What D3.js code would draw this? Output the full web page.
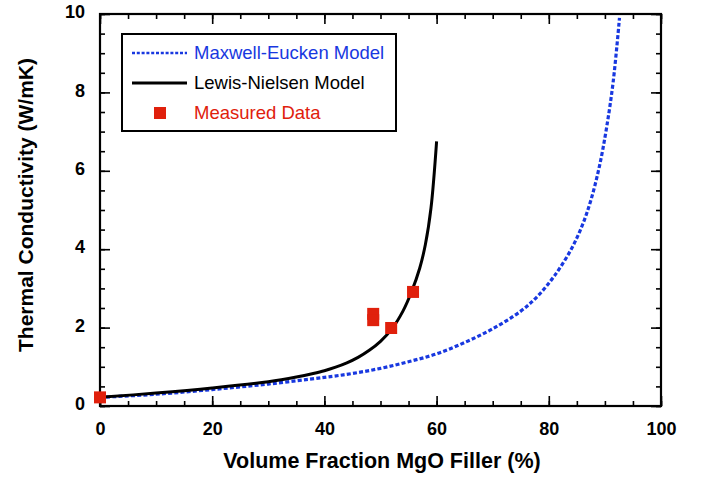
<!DOCTYPE html>
<html>
<head>
<meta charset="utf-8">
<script src="https://cdn.jsdelivr.net/npm/d3@7/dist/d3.min.js"></script>
<style>
  html, body { margin: 0; padding: 0; background: #fff; }
  svg { display: block; font-family: "Liberation Sans", Arial, Helvetica, sans-serif; }
</style>
</head>
<body>
<svg id="chart" width="702" height="479"></svg>
<script>
// Data
const meX = [0, 10, 20, 30, 40, 45, 50, 55, 60, 65, 70, 75, 78, 81, 84, 86, 87.5, 89, 90.3, 91.5, 92.6];
const meY = [0.22, 0.30, 0.42, 0.56, 0.73, 0.83, 0.96, 1.13, 1.33, 1.62, 1.97, 2.42, 2.80, 3.32, 4.0, 4.62, 5.25, 6.1, 7.1, 8.3, 9.9];

const lnX = [0, 10, 20, 30, 35, 38, 40, 42, 44, 46, 48, 50, 52, 54, 55.5, 57, 58, 59, 60];
const lnY = [0.22, 0.33, 0.46, 0.62, 0.74, 0.83, 0.90, 0.99, 1.10, 1.24, 1.42, 1.65, 1.96, 2.42, 2.90, 3.52, 4.12, 5.05, 6.75];

const measX = [0, 48.7, 48.7, 51.9, 55.8];
const measY = [0.22, 2.35, 2.19, 1.99, 2.91];

const xMajor = [0, 20, 40, 60, 80, 100];
const xMinor = d3.range(0, 101, 5);
const yMajor = [0, 2, 4, 6, 8, 10];
const yMinor = d3.range(0, 10.01, 0.5);

const legendLabels = ["Maxwell-Eucken Model", "Lewis-Nielsen Model", "Measured Data"];
const xTitle = "Volume Fraction MgO Filler (%)";
const yTitle = "Thermal Conductivity (W/mK)";

const blue = "#1838e0";
const red = "#e0200c";

const svg = d3.select("#chart");
const L = 100, R = 661, T = 14, B = 406;
const x = d3.scaleLinear().domain([0, 100]).range([L, R]);
const y = d3.scaleLinear().domain([0, 10]).range([B, T]);

svg.append("defs").append("clipPath").attr("id", "clip")
  .append("rect").attr("x", L).attr("y", T).attr("width", R - L).attr("height", B - T);

function styleAxis(g) {
  g.select(".domain").remove();
  g.selectAll(".tick line").attr("stroke", "#000").attr("stroke-width", 1.6);
}
// bottom
svg.append("g").attr("transform", `translate(0,${B})`)
  .call(d3.axisBottom(x).tickValues(xMinor).tickSize(-5).tickFormat(""))
  .call(styleAxis);
const xb = svg.append("g").attr("transform", `translate(0,${B})`)
  .call(d3.axisBottom(x).tickValues(xMajor).tickSize(-10).tickPadding(0).tickFormat(d3.format("d")))
  .call(styleAxis);
xb.selectAll(".tick text").attr("y", 16.5).attr("dy", "0.71em")
  .attr("font-size", 18).attr("font-weight", "bold").attr("fill", "#000")
  .attr("font-family", "Liberation Sans, Arial, sans-serif");
// top
svg.append("g").attr("transform", `translate(0,${T})`)
  .call(d3.axisTop(x).tickValues(xMinor).tickSize(-5).tickFormat("")).call(styleAxis);
svg.append("g").attr("transform", `translate(0,${T})`)
  .call(d3.axisTop(x).tickValues(xMajor).tickSize(-10).tickFormat("")).call(styleAxis);
// left
svg.append("g").attr("transform", `translate(${L},0)`)
  .call(d3.axisLeft(y).tickValues(yMinor).tickSize(-5).tickFormat("")).call(styleAxis);
const yl = svg.append("g").attr("transform", `translate(${L},0)`)
  .call(d3.axisLeft(y).tickValues(yMajor).tickSize(-10).tickFormat(d3.format("d")))
  .call(styleAxis);
yl.selectAll(".tick text").attr("x", -15).attr("dy", "0.2em")
  .attr("font-size", 18).attr("font-weight", "bold").attr("fill", "#000")
  .attr("font-family", "Liberation Sans, Arial, sans-serif");
// right
svg.append("g").attr("transform", `translate(${R},0)`)
  .call(d3.axisRight(y).tickValues(yMinor).tickSize(-5).tickFormat("")).call(styleAxis);
svg.append("g").attr("transform", `translate(${R},0)`)
  .call(d3.axisRight(y).tickValues(yMajor).tickSize(-10).tickFormat("")).call(styleAxis);

// frame
svg.append("rect").attr("x", L).attr("y", T).attr("width", R - L).attr("height", B - T)
  .attr("fill", "none").attr("stroke", "#000").attr("stroke-width", 2.2);

const line = d3.line().x(d => x(d[0])).y(d => y(d[1])).curve(d3.curveCatmullRom.alpha(0.5));
const plot = svg.append("g").attr("clip-path", "url(#clip)");

// Maxwell-Eucken
plot.append("path").datum(meX.map((v, i) => [v, meY[i]]))
  .attr("d", line).attr("fill", "none").attr("stroke", blue)
  .attr("stroke-width", 3.2).attr("stroke-dasharray", "4,2.2");
// Lewis-Nielsen
plot.append("path").datum(lnX.map((v, i) => [v, lnY[i]]))
  .attr("d", line).attr("fill", "none").attr("stroke", "#000")
  .attr("stroke-width", 3);

// Measured data
const sq = 12;
svg.append("g").selectAll("rect").data(measX.map((v, i) => [v, measY[i]])).join("rect")
  .attr("x", d => x(d[0]) - sq / 2).attr("y", d => y(d[1]) - sq / 2)
  .attr("width", sq).attr("height", sq).attr("fill", red);

// Legend
const lg = svg.append("g");
lg.append("rect").attr("x", 122).attr("y", 34).attr("width", 274).attr("height", 97)
  .attr("fill", "#fff").attr("stroke", "#000").attr("stroke-width", 2);
lg.append("line").attr("x1", 132).attr("x2", 187).attr("y1", 53).attr("y2", 53)
  .attr("stroke", blue).attr("stroke-width", 2.6).attr("stroke-dasharray", "3,1.8");
lg.append("line").attr("x1", 132).attr("x2", 187).attr("y1", 83).attr("y2", 83)
  .attr("stroke", "#000").attr("stroke-width", 3);
lg.append("rect").attr("x", 154).attr("y", 107).attr("width", 12).attr("height", 12).attr("fill", red);
const lcol = [blue, "#000", red];
const ly = [58.5, 88.5, 118.5];
lg.selectAll("text.lg").data(legendLabels).join("text").attr("class", "lg")
  .attr("x", 194).attr("y", (d, i) => ly[i]).attr("fill", (d, i) => lcol[i])
  .attr("font-size", 18.5).text(d => d);

// Axis titles
svg.append("text").attr("x", 382).attr("y", 468).attr("text-anchor", "middle")
  .attr("font-size", 21.5).attr("font-weight", "bold").text(xTitle);
svg.append("text").attr("transform", `translate(33,205) rotate(-90)`)
  .attr("text-anchor", "middle").attr("font-size", 21).attr("font-weight", "bold").text(yTitle);
</script>
</body>
</html>
